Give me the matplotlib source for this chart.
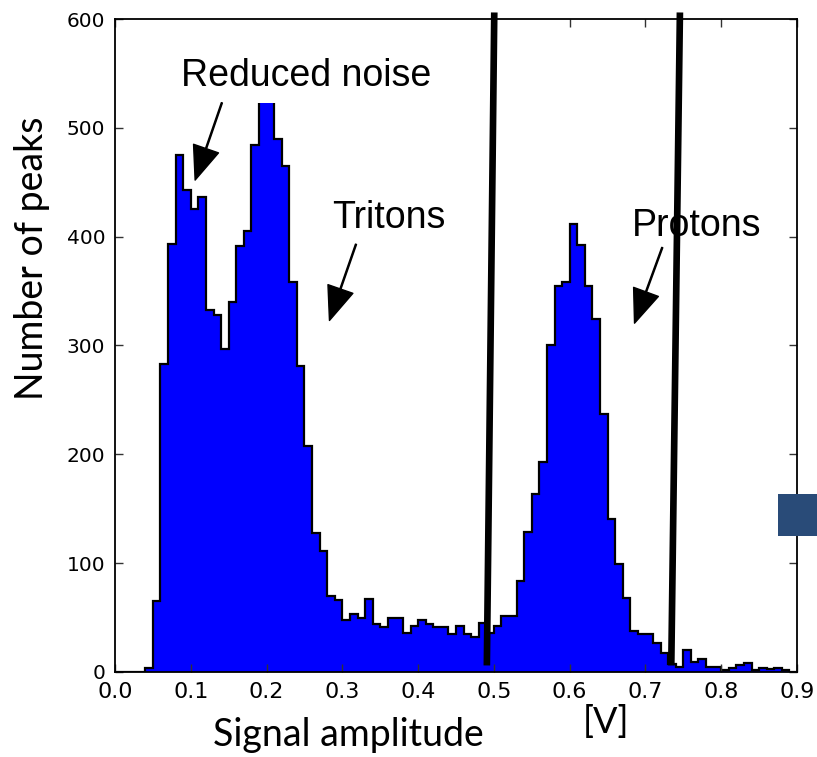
import numpy as np
import matplotlib
matplotlib.use("Agg")
import matplotlib.pyplot as plt
from matplotlib.patches import Rectangle

# ---- data ----
bin_edges = np.round(np.arange(0, 0.901, 0.01), 2)
counts = [0, 0, 0, 0, 4, 65, 283, 393, 475, 443,
          425, 436, 333, 328, 297, 340, 391, 405, 484, 540,
          560, 490, 465, 358, 281, 208, 128, 111, 70, 66,
          48, 53, 50, 67, 44, 41, 50, 50, 36, 42,
          48, 44, 41, 41, 35, 42, 35, 32, 45, 36,
          42, 51, 51, 84, 129, 164, 193, 300, 355, 358,
          412, 392, 355, 324, 237, 141, 99, 68, 38, 35,
          35, 27, 17, 7, 5, 20, 9, 12, 5, 5,
          2, 4, 6, 8, 2, 4, 3, 4, 2, 0]
xticks = [0.0, 0.1, 0.2, 0.3, 0.4, 0.5, 0.6, 0.7, 0.8, 0.9]
yticks = [0, 100, 200, 300, 400, 500, 600]
cut_lines_x = [(0.4907, 0.5005), (0.7341, 0.7455)]
cut_lines_y = (6, 606)
annotations = [
    ("Reduced noise", (0.252, 538), (0.141, 523), (0.1057, 452)),
    ("Tritons", (0.361, 408), (0.318, 393), (0.283, 323)),
    ("Protons", (0.767, 401), (0.7222, 390), (0.6856, 320.5)),
]

fig = plt.figure(figsize=(8.17, 7.57), dpi=100)
ax = fig.add_axes([0.1408, 0.1123, 0.8347, 0.8626])

ax.stairs(counts, bin_edges, fill=True, color="#0000ff", zorder=1)
ax.stairs(counts, bin_edges, color="black", linewidth=1.6, zorder=1.5)

ax.set_xlim(0, 0.9)
ax.set_ylim(0, 600)
ax.set_xticks(xticks)
ax.set_yticks(yticks)
ax.set_xticklabels([f"{v:.1f}" for v in xticks], fontsize=16,
                   family=["DejaVu Sans Condensed", "DejaVu Sans"])
ax.set_yticklabels([str(v) for v in yticks], fontsize=14.5, family="DejaVu Sans")
ax.tick_params(direction="in", length=6, width=1, top=True, right=True,
               color="#333333", pad=7)
for s in ax.spines.values():
    s.set_linewidth(1.3)

# white box hiding top of tallest bars behind the label
ax.add_patch(Rectangle((0.08, 523), 0.34, 80, facecolor="white",
                       edgecolor="none", zorder=1.8))

for (x0, x1) in cut_lines_x:
    ax.plot([x0, x1], list(cut_lines_y), color="black", linewidth=4.8,
            clip_on=False, zorder=3, solid_capstyle="butt")

for text, tpos, tail, tip in annotations:
    ax.text(tpos[0], tpos[1], text, ha="center", va="baseline",
            fontsize=27, family="Liberation Sans", zorder=4)
    ax.annotate("", xy=tip, xytext=tail,
                arrowprops=dict(facecolor="black", edgecolor="black",
                                width=0.8, headwidth=19, headlength=24,
                                shrink=0), zorder=4)

fig.text(0.426, 0.029, "Signal amplitude", ha="center", va="center",
         fontsize=27, family="Lato")
fig.text(0.742, 0.046, "[V]", ha="center", va="center",
         fontsize=26, family="Lato")
fig.text(0.039, 0.659, "Number of peaks", ha="center", va="center",
         rotation=90, fontsize=27, family="Lato")

fig.patches.append(Rectangle((778 / 817, 1 - 536 / 757), 39 / 817, 42 / 757,
                             transform=fig.transFigure, facecolor="#294b78",
                             edgecolor="none", zorder=5))

fig.savefig("out.png", dpi=100)
